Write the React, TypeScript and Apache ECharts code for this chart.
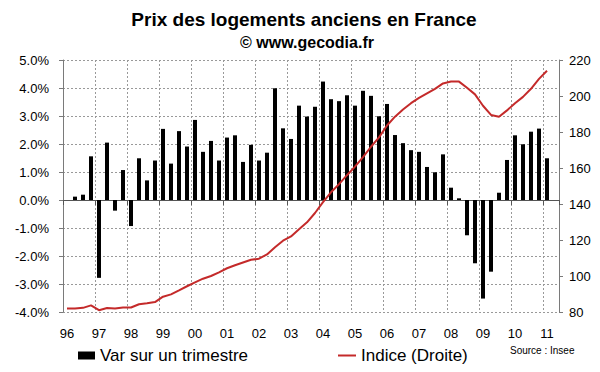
import React, { useEffect, useRef } from "react";
import * as echarts from "echarts";

const years = ["96", "97", "98", "99", "00", "01", "02", "03", "04", "05", "06", "07", "08", "09", "10", "11"];
const quarters = ["T1", "T2", "T3", "T4"];

// quarterly change (%), from 1996 T1 to 2011 T1
const varTrimestre: (number | null)[] = [
  null, 0.12, 0.19, 1.56,
  -2.78, 2.05, -0.38, 1.07,
  -0.93, 1.49, 0.7, 1.41,
  2.54, 1.3, 2.46, 1.91,
  2.86, 1.72, 2.11, 1.41,
  2.23, 2.31, 1.36, 1.97,
  1.41, 1.69, 3.99, 2.56,
  2.18, 3.37, 2.98, 3.33,
  4.23, 3.6, 3.53, 3.74,
  3.37, 3.9, 3.72, 2.99,
  3.43, 2.32, 2.03, 1.78,
  1.72, 1.18, 0.99, 1.63,
  0.44, 0.06, -1.26, -2.26,
  -3.52, -2.56, 0.26, 1.43,
  2.31, 1.99, 2.44, 2.55,
  1.49,
];

// price index (right axis)
const indice: (number | null)[] = [
  82, 82, 82.3, 83.7,
  81, 82.2, 82, 82.5,
  82.5, 84.3, 84.8, 85.5,
  88.5, 89.8, 92, 94.3,
  96.5, 98.5, 100, 102,
  104.3, 106, 107.5, 109,
  109.6, 112, 116, 119.6,
  122, 126, 129.8, 135,
  141, 146.5, 151, 156,
  160.8, 166, 171.8, 177,
  183.6, 188.5, 192.5, 196,
  199, 201.5, 204, 207,
  208, 208, 204.6, 200.9,
  194.6, 189.5, 188.5, 192,
  196, 199.5, 204, 209.5,
  214,
];

const FONT = "'Liberation Sans', Arial, Helvetica, sans-serif";

export default function App() {
  const ref = useRef<HTMLDivElement>(null);

  useEffect(() => {
    if (!ref.current) return;
    const chart = echarts.init(ref.current, undefined, { renderer: "svg" });

    const categories: string[] = [];
    years.forEach((y) => quarters.forEach((q) => categories.push(y + " " + q)));
    const cats = categories.slice(0, 62); // 1996 T1 .. 2011 T2 (last slot empty)

    const barData = cats.map((_, i) => (i < varTrimestre.length ? varTrimestre[i] : null));
    const lineData = cats.map((_, i) => (i < indice.length ? indice[i] : null));

    const gridColor = "#999999";
    const axisColor = "#7a7a7a";
    const red = "#c42a2a";

    chart.setOption({
      animation: false,
      textStyle: { fontFamily: FONT },
      grid: { left: 63, right: 41, top: 60, bottom: 60, containLabel: false },
      xAxis: [
        {
          type: "category",
          data: cats,
          boundaryGap: true,
          position: "bottom",
          axisLine: { show: true, onZero: true, lineStyle: { color: "#555", width: 1 } },
          axisTick: { show: true, interval: 3, length: 5, lineStyle: { color: "#555" } },
          axisLabel: { show: false },
          splitLine: {
            show: true,
            interval: 3,
            lineStyle: { color: gridColor, type: [2, 2], width: 1 },
          },
        },
        {
          type: "category",
          data: cats,
          boundaryGap: true,
          position: "bottom",
          axisLine: { show: false, onZero: false },
          axisTick: { show: false },
          splitLine: { show: false },
          axisLabel: {
            show: true,
            interval: 3,
            margin: 15,
            fontSize: 13,
            color: "#000",
            fontFamily: FONT,
            formatter: (v: string) => v.split(" ")[0],
          },
        },
      ],
      yAxis: [
        {
          type: "value",
          min: -4,
          max: 5,
          interval: 1,
          position: "left",
          axisLine: { show: true, lineStyle: { color: axisColor } },
          axisTick: { show: true, length: 4, lineStyle: { color: axisColor } },
          axisLabel: {
            margin: 14,
            fontSize: 13,
            color: "#000",
            fontFamily: FONT,
            formatter: (v: number) => v.toFixed(1) + "%",
          },
          splitLine: { show: true, lineStyle: { color: gridColor, type: [2, 2], width: 1 } },
        },
        {
          type: "value",
          min: 80,
          max: 220,
          interval: 20,
          position: "right",
          axisLine: { show: true, lineStyle: { color: axisColor } },
          axisTick: { show: true, length: 4, lineStyle: { color: axisColor } },
          axisLabel: { margin: 10, fontSize: 13, color: "#000", fontFamily: FONT },
          splitLine: { show: false },
        },
      ],
      legend: [
        {
          left: 78,
          top: 347,
          padding: 0,
          itemWidth: 17,
          itemHeight: 8,
          itemGap: 0,
          textStyle: { fontSize: 17, color: "#000", fontFamily: FONT },
          data: [{ name: "Var sur un trimestre", icon: "rect" }],
        },
        {
          left: 338,
          top: 347,
          padding: 0,
          itemWidth: 18,
          itemHeight: 2,
          itemGap: 0,
          textStyle: { fontSize: 17, color: "#000", fontFamily: FONT },
          data: [{ name: "Indice (Droite)", icon: "rect", itemStyle: { color: red } }],
        },
      ],
      graphic: [
        {
          type: "text",
          x: 304,
          y: 19.5,
          style: {
            text: "Prix des logements anciens en France",
            textAlign: "center",
            textVerticalAlign: "middle",
            font: "bold 19px " + FONT,
            fill: "#000",
          },
        },
        {
          type: "text",
          x: 307,
          y: 42,
          style: {
            text: "© www.gecodia.fr",
            textAlign: "center",
            textVerticalAlign: "middle",
            font: "bold 16px " + FONT,
            fill: "#000",
          },
        },
        {
          type: "text",
          x: 510,
          y: 350,
          style: {
            text: "Source : Insee",
            textAlign: "left",
            textVerticalAlign: "middle",
            font: "10px " + FONT,
            fill: "#000",
          },
        },
      ],
      series: [
        {
          name: "Var sur un trimestre",
          type: "bar",
          xAxisIndex: 0,
          yAxisIndex: 0,
          data: barData,
          barWidth: 4,
          itemStyle: { color: "#000" },
          z: 2,
        },
        {
          name: "Indice (Droite)",
          type: "line",
          xAxisIndex: 0,
          yAxisIndex: 1,
          data: lineData,
          symbol: "none",
          showSymbol: false,
          lineStyle: { color: red, width: 2 },
          itemStyle: { color: red },
          z: 3,
        },
      ],
    });

    return () => chart.dispose();
  }, []);

  return <div ref={ref} style={{ width: 600, height: 372, position: "absolute", left: 0, top: 0 }} />;
}
